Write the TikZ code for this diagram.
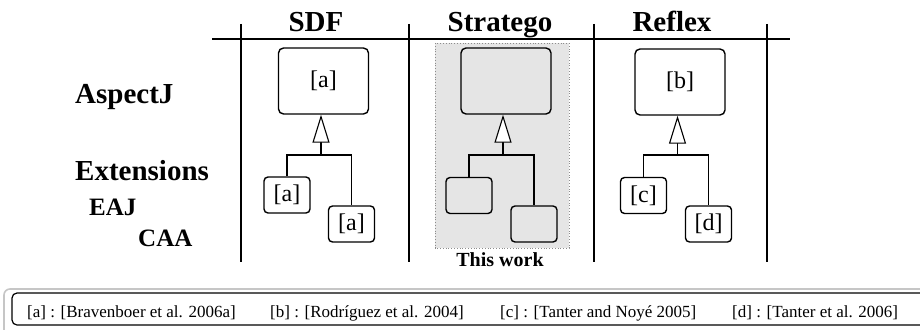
\documentclass[tikz,border=0pt]{standalone}
\usepackage{fontspec}
\setmainfont{Liberation Serif}
\usepackage{xcolor}
\usepackage{tikz}
\usetikzlibrary{arrows.meta, positioning}

\definecolor{workgray}{gray}{0.90}
\definecolor{framegray}{gray}{0.55}

\tikzset{
  bigbox/.style={draw, line width=1.4pt, rounded corners=5pt, minimum width=90pt,
    minimum height=66pt, inner sep=0pt, font=\fontsize{24}{24}\selectfont},
  smallbox/.style={draw, line width=1.4pt, rounded corners=4pt, minimum width=46pt,
    minimum height=36pt, inner sep=0pt, font=\fontsize{24}{24}\selectfont},
  heading/.style={anchor=base, inner sep=0pt, font=\fontsize{29}{29}\selectfont\bfseries},
  rowlabel/.style={anchor=base west, inner sep=0pt, font=\fontsize{29}{29}\selectfont\bfseries},
  sublabel/.style={anchor=base west, inner sep=0pt, font=\fontsize{25}{25}\selectfont\bfseries},
  legend/.style={anchor=base west, inner sep=0pt, font=\fontsize{17}{17}\selectfont},
  branch/.style={line width=1.4pt},
  inherit/.style={line width=1.4pt, -{Triangle[width=17pt, length=28pt, fill=white, line width=1.1pt]}},
}

\begin{document}
\begin{tikzpicture}[x=1pt, y=-1pt]

    \clip (0,0) rectangle (920,329);

    % =================================================================
    % 1. BANG: DUONG KE VA TIEU DE
    % =================================================================
    % Vung "This work" (nen xam, vien cham)
    \draw[framegray, dotted, line width=0.8pt, fill=workgray] (435,43) rectangle (569,248);

    % Duong ngang duoi tieu de
    \draw[line width=1.3pt] (212,39) -- (790,39);

    % Cac duong doc
    \draw[line width=1.3pt] (241,24) -- (241,262);
    \draw[line width=1.3pt] (409,24) -- (409,262);
    \draw[line width=1.3pt] (594,24) -- (594,262);
    \draw[line width=1.3pt] (767,24) -- (767,262);

    % Tieu de cot
    \node[heading] (hSDF) at (316,32) {SDF};
    \node[heading] (hStratego) at (500,32) {Stratego};
    \node[heading] (hReflex) at (672,32) {Reflex};

    % Tieu de hang
    \node[rowlabel] (rAspectJ) at (75,103) {AspectJ};
    \node[rowlabel] (rExt) at (75,180) {Extensions};
    \node[sublabel] (rEAJ) at (89,215) {EAJ};
    \node[sublabel] (rCAA) at (138,246) {CAA};

    \node[anchor=base, inner sep=0pt, font=\fontsize{20}{20}\selectfont\bfseries]
        (thisWork) at (500,266) {This work};

    % =================================================================
    % 2. CAC CAY KE THUA
    % =================================================================
    % Cot SDF
    \node[bigbox] (sdfA) at (323.5,81) {[a]};
    \node[smallbox] (sdfL) at (287,195) {[a]};
    \node[smallbox] (sdfR) at (351.5,224) {[a]};
    \coordinate (sdfJ) at (321,155);
    \draw[branch] (sdfL.north) |- (sdfJ) -| (sdfR.north);
    \draw[inherit] (sdfJ) -- (sdfJ |- sdfA.south);

    % Cot Stratego
    \node[bigbox] (strA) at (506,81) {};
    \node[smallbox] (strL) at (469,195.5) {};
    \node[smallbox] (strR) at (534,224) {};
    \coordinate (strJ) at (503,155);
    \draw[branch] (strL.north) |- (strJ) -| (strR.north);
    \draw[inherit] (strJ) -- (strJ |- strA.south);

    % Cot Reflex
    \node[bigbox] (refA) at (680,82) {[b]};
    \node[smallbox] (refL) at (643.5,195.5) {[c]};
    \node[smallbox] (refR) at (708.5,224) {[d]};
    \coordinate (refJ) at (677.5,155);
    \draw[branch] (refL.north) |- (refJ) -| (refR.north);
    \draw[inherit] (refJ) -- (refJ |- refA.south);

    % =================================================================
    % 3. CHU THICH TAI LIEU
    % =================================================================
    \draw[gray!45, line width=1.6pt, rounded corners=6pt] (4,289) rectangle (945,336);
    \draw[line width=1.2pt, rounded corners=5pt] (12,293) rectangle (940,325);

    \node[legend] (refa) at (27,317) {[a] : [Bravenboer et al. 2006a]};
    \node[legend] (refb) at (270,317) {[b] : [Rodríguez et al. 2004]};
    \node[legend] (refc) at (500,317) {[c] : [Tanter and Noyé 2005]};
    \node[legend] (refd) at (732,317) {[d] : [Tanter et al. 2006]};

\end{tikzpicture}
\end{document}
